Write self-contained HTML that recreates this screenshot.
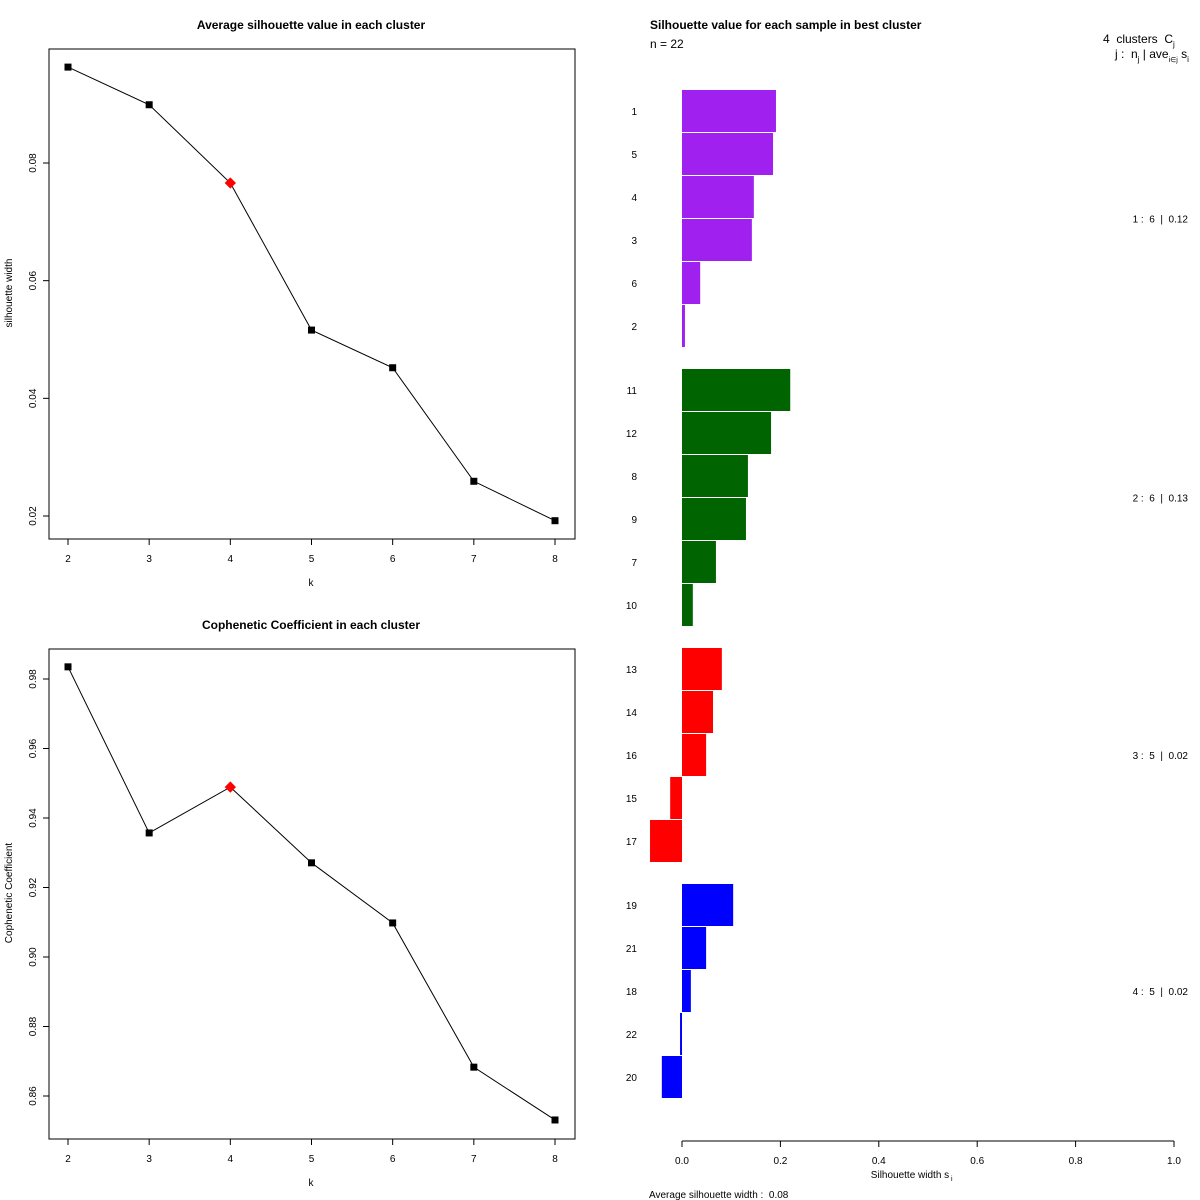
<!DOCTYPE html>
<html><head><meta charset="utf-8"><style>
html,body{margin:0;padding:0;background:#fff}
svg{display:block;font-family:"Liberation Sans",Arial,sans-serif}
text{white-space:pre}
</style></head><body>
<svg id="c" width="1200" height="1200" viewBox="0 0 1200 1200" xmlns="http://www.w3.org/2000/svg" xml:space="preserve"></svg>
<script>
// ---- data ----
const kValues = [2,3,4,5,6,7,8];
const silhouetteByK = [0.0963,0.0899,0.0766,0.0516,0.0452,0.0259,0.0192];
const cophByK = [0.9835,0.9357,0.9489,0.9271,0.9098,0.8683,0.8531];
const bestK = 4;
const silTicks = [0.02,0.04,0.06,0.08];
const cophTicks = [0.86,0.88,0.90,0.92,0.94,0.96,0.98];
const sampleLabels = ["1","5","4","3","6","2","11","12","8","9","7","10","13","14","16","15","17","19","21","18","22","20"];
const sampleCluster = [1,1,1,1,1,1,2,2,2,2,2,2,3,3,3,3,3,4,4,4,4,4];
const sampleWidth = [0.191,0.185,0.146,0.142,0.037,0.006,0.22,0.181,0.134,0.130,0.069,0.022,0.081,0.063,0.049,-0.024,-0.065,0.104,0.049,0.018,-0.004,-0.041];
const clusterColors = ["#A020F0","#006400","#FF0000","#0000FF"];
const clusterSummary = ["1 :  6  |  0.12","2 :  6  |  0.13","3 :  5  |  0.02","4 :  5  |  0.02"];
const silAxisTicks = ["0.0","0.2","0.4","0.6","0.8","1.0"];

const NS="http://www.w3.org/2000/svg";
const svg=document.getElementById('c');
function el(tag,attrs,text,parent){const e=document.createElementNS(NS,tag);for(const k in attrs)e.setAttribute(k,attrs[k]);if(text!==undefined)e.textContent=text;(parent||svg).appendChild(e);return e;}

function drawLine(box,ya,yb,vlo,vhi,vals,ticks,title,ylab,prefix,ylabY){
  const [bx0,by0,bx1,by1]=box;
  const xs=k=>68+(k-2)*(555-68)/6;
  const ys=v=>ya+(v-vlo)*(yb-ya)/(vhi-vlo);
  let e=el('rect',{x:bx0,y:by0,width:bx1-bx0,height:by1-by0,fill:'none',stroke:'#000','stroke-width':1});
  
  e=el('text',{x:311,y:by0-20,'text-anchor':'middle','font-size':12,'font-weight':'bold'},title);
  
  kValues.forEach(k=>{
    const x=xs(k);
    el('line',{x1:x,y1:by1,x2:x,y2:by1+6,stroke:'#000'});
    const t=el('text',{x:x,y:by1+23,'text-anchor':'middle','font-size':10},String(k));
    
  });
  ticks.forEach(v=>{
    const y=ys(v);
    el('line',{x1:bx0,y1:y,x2:bx0-6,y2:y,stroke:'#000'});
    const t=el('text',{x:0,y:0,'text-anchor':'middle','font-size':10,transform:`translate(36,${y}) rotate(-90)`},v.toFixed(2));
    
  });
  e=el('text',{x:311,y:by1+47,'text-anchor':'middle','font-size':10},'k');
  
  e=el('text',{x:0,y:0,'text-anchor':'middle','font-size':10,transform:`translate(12,${ylabY}) rotate(-90)`},ylab);
  
  const pts=kValues.map((k,i)=>xs(k)+','+ys(vals[i])).join(' ');
  e=el('polyline',{points:pts,fill:'none',stroke:'#000','stroke-width':1});
  
  kValues.forEach((k,i)=>{
    const x=xs(k),y=ys(vals[i]);
    let m;
    if(k===bestK){m=el('rect',{x:x-4,y:y-4,width:8,height:8,fill:'#f00',transform:`rotate(45 ${x} ${y})`});}
    else{m=el('rect',{x:x-3.5,y:y-3.5,width:7,height:7,fill:'#000'});}
    
  });
}
drawLine([49,49,575,539],516,163,0.02,0.08,silhouetteByK,silTicks,'Average silhouette value in each cluster','silhouette width','silhouette',293);
drawLine([49,649,575,1139],1096,679,0.86,0.98,cophByK,cophTicks,'Cophenetic Coefficient in each cluster','Cophenetic Coefficient','cophenetic',893);

// ---- silhouette bar plot ----
const sx=v=>682+v*492;
let e=el('text',{x:650,y:29,'font-size':12,'font-weight':'bold'},'Silhouette value for each sample in best cluster');

e=el('text',{x:650,y:48,'font-size':12},'n = 22');

e=el('text',{x:1103,y:43,'font-size':12},'4  clusters  C');

el('tspan',{dy:4,'font-size':8},'j',e);
e=el('text',{x:1115,y:58,'font-size':12},'j :  n');

el('tspan',{dy:4,'font-size':8},'j',e);
el('tspan',{dy:-4},' | ave',e);
el('tspan',{dy:4,'font-size':7},'i∈j',e);
el('tspan',{dy:-4},' s',e);
el('tspan',{dy:4,'font-size':8},'i',e);
const yCenters=[];
let g=0;
sampleLabels.forEach((lab,i)=>{
  if(i>0&&sampleCluster[i]!==sampleCluster[i-1])g++;
  const yc=111+43*i+21*g;
  yCenters.push(yc);
  const v=sampleWidth[i];
  const x0=Math.min(sx(0),sx(v)),w=Math.max(Math.abs(sx(v)-sx(0)),1);
  const r=el('rect',{x:x0,y:yc-21,width:w,height:42,fill:clusterColors[sampleCluster[i]-1]});
  
  const t=el('text',{x:637,y:yc+4,'text-anchor':'end','font-size':10},lab);
  
});
[1,2,3,4].forEach((c,ci)=>{
  const idx=sampleCluster.map((s,i)=>s===c?i:-1).filter(i=>i>=0);
  const ym=(yCenters[idx[0]]+yCenters[idx[idx.length-1]])/2;
  const t=el('text',{x:1188,y:ym+4,'text-anchor':'end','font-size':10},clusterSummary[ci]);
  
});
e=el('line',{x1:sx(0),y1:1141,x2:sx(1),y2:1141,stroke:'#000'});

silAxisTicks.forEach(s=>{
  const x=sx(parseFloat(s));
  el('line',{x1:x,y1:1141,x2:x,y2:1147,stroke:'#000'});
  const t=el('text',{x:x,y:1164,'text-anchor':'middle','font-size':10},s);
  
});
e=el('text',{x:910,y:1178,'text-anchor':'middle','font-size':10},'Silhouette width s');

el('text',{x:951,y:1181,'font-size':7},'i');
e=el('text',{x:649,y:1198,'font-size':10},'Average silhouette width :  0.08');

</script>
</body></html>
